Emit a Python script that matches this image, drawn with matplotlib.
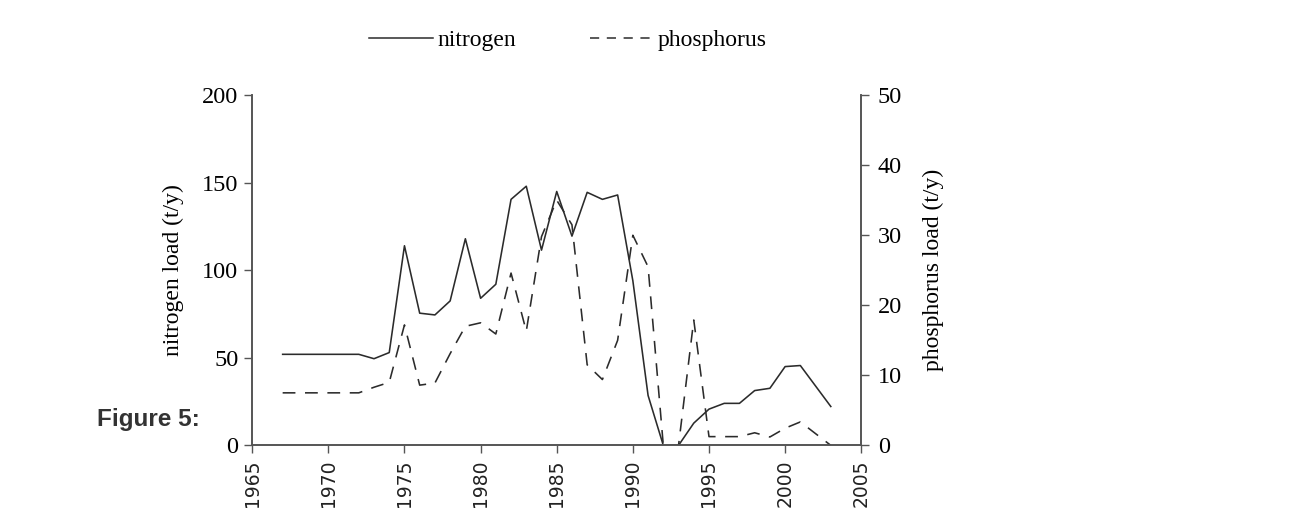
import matplotlib
matplotlib.use("Agg")
import matplotlib.pyplot as plt
from matplotlib.lines import Line2D

# annual loads (2002 not reported)
years = [1967, 1968, 1969, 1970, 1971, 1972, 1973, 1974, 1975, 1976,
         1977, 1978, 1979, 1980, 1981, 1982, 1983, 1984, 1985, 1986,
         1987, 1988, 1989, 1990, 1991, 1992, 1993, 1994, 1995, 1996,
         1997, 1998, 1999, 2000, 2001, 2003]
nitrogen = [52, 52, 52, 52, 52, 52, 49.5, 53, 114, 75.5,
            74.5, 82.5, 118, 84, 92, 140.5, 148, 111.5, 145, 119.5,
            144.5, 140.5, 143, 94, 28.5, 0, 0, 12.7, 20.7, 24,
            24, 31.3, 32.6, 45, 45.6, 22.2]
phosphorus = [7.5, 7.5, 7.5, 7.5, 7.5, 7.5, 8.3, 9, 17.2, 8.6,
              8.9, 13.1, 17, 17.5, 15.9, 24.6, 16.3, 29.8, 35, 31.5,
              11.5, 9.4, 15, 30, 25.5, 0, 0, 17.9, 1.25, 1.25,
              1.25, 1.8, 1.2, 2.45, 3.35, 0]

xticks = list(range(1965, 2006, 5))
n_ticks = [0, 50, 100, 150, 200]
p_ticks = [0, 10, 20, 30, 40, 50]

serif = "Liberation Serif"
ink = "#2b2b2b"
spine_c = "#555555"

fig = plt.figure(figsize=(13, 5.2), dpi=100)
ax = fig.add_axes([0.1940, 0.1435, 0.4685, 0.6735])
ax2 = ax.twinx()

ax.plot(years, nitrogen, color=ink, lw=1.15)
ax2.plot(years, phosphorus, color=ink, lw=1.15, dashes=(8, 6))

ax.set_xlim(1965, 2005)
ax.set_ylim(0, 200)
ax2.set_ylim(0, 50)
ax.set_xticks(xticks)
ax.set_yticks(n_ticks)
ax2.set_yticks(p_ticks)

ax.set_xticklabels([str(y) for y in xticks], rotation=90,
                   fontfamily="DejaVu Sans", fontsize=13.5, color="#222222")
ax.set_yticklabels([str(v) for v in n_ticks], fontfamily=serif, fontsize=17.5)
ax2.set_yticklabels([str(v) for v in p_ticks], fontfamily=serif, fontsize=17.5)

for a in (ax, ax2):
    a.spines["top"].set_visible(False)
    for s in ("left", "right", "bottom"):
        a.spines[s].set_color(spine_c)
        a.spines[s].set_linewidth(1.2)
    a.tick_params(direction="out", length=6, width=1.0, color=spine_c, pad=4)
ax2.tick_params(axis="y", pad=6)

ax.set_ylabel("nitrogen load (t/y)", fontfamily=serif, fontsize=17, labelpad=13)
ax2.set_ylabel("phosphorus load (t/y)", fontfamily=serif, fontsize=17, labelpad=15)

handles = [Line2D([], [], color=ink, lw=1.1),
           Line2D([], [], color=ink, lw=1.1, dashes=(6, 5))]
fig.legend(handles, ["nitrogen", "phosphorus"], loc="center",
           bbox_to_anchor=(0.437, 0.922), ncol=2, frameon=False,
           prop={"family": serif, "size": 17}, handlelength=2.7,
           handletextpad=0.2, columnspacing=3.1)

fig.text(0.0745, 0.194, "Figure 5:", fontfamily="Liberation Sans",
         fontweight="bold", fontsize=17.5, color="#333333", va="center")

fig.savefig("out.png", dpi=100, facecolor="white")
